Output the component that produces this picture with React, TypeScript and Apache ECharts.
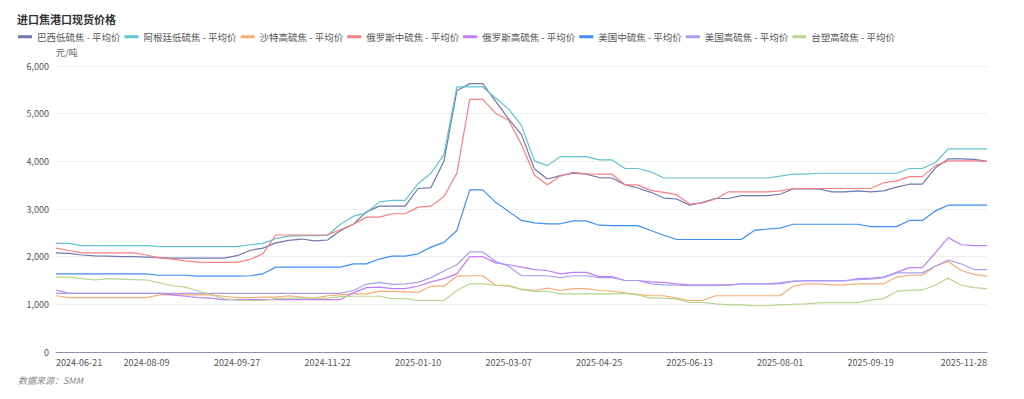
import React, { useEffect, useRef } from "react";
import * as echarts from "echarts";

const dates = [
  "2024-06-21","2024-06-28","2024-07-05","2024-07-12","2024-07-19","2024-07-26","2024-08-02","2024-08-09",
  "2024-08-16","2024-08-23","2024-08-30","2024-09-06","2024-09-13","2024-09-20","2024-09-27",
  "2024-10-11","2024-10-18","2024-10-25","2024-11-01","2024-11-08","2024-11-15","2024-11-22",
  "2024-11-29","2024-12-06","2024-12-13","2024-12-20","2024-12-27","2025-01-03","2025-01-10",
  "2025-01-17","2025-01-24","2025-02-07","2025-02-14","2025-02-21","2025-02-28","2025-03-07",
  "2025-03-14","2025-03-21","2025-03-28","2025-04-04","2025-04-11","2025-04-18","2025-04-25",
  "2025-05-02","2025-05-09","2025-05-16","2025-05-23","2025-05-30","2025-06-06","2025-06-13",
  "2025-06-20","2025-06-27","2025-07-04","2025-07-11","2025-07-18","2025-07-25","2025-08-01",
  "2025-08-08","2025-08-15","2025-08-22","2025-08-29","2025-09-05","2025-09-12","2025-09-19",
  "2025-09-26","2025-10-10","2025-10-17","2025-10-24","2025-10-31","2025-11-07","2025-11-14",
  "2025-11-21","2025-11-28",
];

const brazilLow = [
  2080,2070,2035,2015,2010,2000,2000,1990,1980,1970,
  1970,1970,1970,1970,2020,2130,2180,2290,2340,2370,
  2330,2350,2550,2680,2940,3060,3060,3060,3430,3450,
  4000,5480,5630,5630,5260,4890,4560,3840,3630,3700,
  3750,3730,3660,3650,3510,3440,3350,3230,3210,3080,
  3140,3220,3220,3280,3280,3280,3310,3420,3420,3420,
  3360,3360,3380,3360,3380,3460,3520,3520,3860,4050,
  4050,4040,4000,
];

const argentinaLow = [
  2280,2280,2230,2230,2230,2230,2230,2230,2210,2210,
  2210,2210,2210,2210,2210,2250,2280,2380,2430,2440,
  2440,2450,2680,2850,2920,3150,3180,3180,3530,3750,
  4140,5560,5560,5560,5330,5100,4750,4010,3910,4100,
  4100,4100,4030,4030,3850,3850,3780,3650,3650,3650,
  3650,3650,3650,3650,3650,3650,3690,3730,3730,3750,
  3750,3750,3750,3750,3750,3750,3850,3850,3970,4260,
  4260,4260,4260,
];

const saudiHigh = [
  1180,1140,1140,1140,1140,1140,1140,1140,1200,1200,
  1200,1200,1200,1170,1140,1140,1150,1150,1180,1150,
  1130,1180,1200,1220,1220,1270,1270,1260,1250,1380,
  1380,1590,1600,1600,1400,1380,1320,1290,1340,1290,
  1330,1330,1290,1280,1240,1210,1180,1180,1130,1080,
  1080,1180,1180,1180,1180,1180,1180,1380,1430,1430,
  1410,1410,1430,1430,1430,1570,1610,1610,1800,1900,
  1710,1630,1590,
];

const russiaMid = [
  2180,2130,2080,2080,2080,2080,2080,2035,1975,1950,
  1910,1885,1880,1880,1880,1940,2060,2455,2455,2455,
  2455,2455,2570,2680,2830,2830,2900,2900,3040,3060,
  3260,3750,5300,5300,5010,4860,4350,3710,3510,3690,
  3770,3740,3730,3730,3510,3500,3390,3350,3300,3100,
  3130,3210,3360,3360,3360,3360,3380,3430,3430,3430,
  3430,3430,3430,3430,3550,3590,3680,3680,3910,4010,
  4010,4010,4000,
];

const russiaHigh = [
  1300,1230,1230,1230,1230,1230,1230,1230,1230,1200,
  1170,1140,1130,1095,1100,1100,1100,1100,1100,1100,
  1100,1100,1100,1240,1350,1360,1330,1330,1380,1470,
  1540,1640,2000,2000,1870,1830,1780,1730,1710,1640,
  1670,1670,1580,1580,1500,1500,1470,1460,1430,1410,
  1410,1410,1410,1430,1430,1430,1450,1490,1490,1490,
  1490,1490,1540,1550,1570,1670,1770,1770,2080,2400,
  2250,2230,2230,
];

const usMid = [
  1640,1640,1640,1640,1640,1640,1640,1640,1610,1610,
  1610,1590,1590,1590,1590,1600,1640,1780,1780,1780,
  1780,1780,1780,1850,1850,1950,2010,2010,2060,2200,
  2300,2550,3400,3400,3140,2950,2760,2710,2690,2690,
  2750,2750,2660,2650,2650,2650,2550,2450,2360,2360,
  2360,2360,2360,2360,2550,2580,2600,2680,2680,2680,
  2680,2680,2680,2630,2630,2630,2760,2760,2960,3080,
  3080,3080,3080,
];

const usHigh = [
  1230,1230,1230,1230,1230,1230,1230,1230,1230,1230,
  1230,1230,1230,1230,1230,1230,1230,1230,1230,1230,
  1230,1230,1230,1290,1420,1460,1420,1430,1460,1560,
  1700,1830,2100,2100,1900,1800,1600,1600,1600,1560,
  1600,1600,1560,1560,1500,1500,1430,1410,1400,1390,
  1390,1390,1400,1430,1430,1430,1430,1480,1500,1500,
  1500,1500,1520,1530,1560,1660,1660,1660,1800,1930,
  1850,1730,1730,
];

const taiwanHigh = [
  1570,1570,1540,1510,1540,1530,1520,1510,1450,1390,
  1360,1280,1200,1120,1090,1080,1080,1120,1130,1130,
  1130,1130,1160,1170,1170,1170,1120,1120,1080,1080,
  1080,1290,1430,1430,1400,1400,1310,1270,1270,1220,
  1220,1220,1220,1220,1230,1200,1130,1130,1110,1040,
  1040,1010,990,990,970,970,990,1000,1010,1030,
  1035,1035,1035,1090,1120,1270,1300,1300,1400,1550,
  1400,1350,1330,
];

const seriesNames = [
  "巴西低硫焦 - 平均价",
  "阿根廷低硫焦 - 平均价",
  "沙特高硫焦 - 平均价",
  "俄罗斯中硫焦 - 平均价",
  "俄罗斯高硫焦 - 平均价",
  "美国中硫焦 - 平均价",
  "美国高硫焦 - 平均价",
  "台塑高硫焦 - 平均价",
];
const seriesData = [brazilLow, argentinaLow, saudiHigh, russiaMid, russiaHigh, usMid, usHigh, taiwanHigh];
const colors = ["#6f78ac", "#62c3d3", "#f6ad76", "#fb7f83", "#c07ef7", "#3f8ef7", "#a99ded", "#b8d58f"];

const FONT = '"Noto Sans CJK SC", "Noto Sans", sans-serif';

export default function App() {
  const ref = useRef<HTMLDivElement>(null);
  useEffect(() => {
    document.body.style.margin = "0";
    if (!ref.current) return;
    const chart = echarts.init(ref.current, null, { renderer: "svg" });
    chart.setOption({
      animation: false,
      color: colors,
      textStyle: { fontFamily: FONT },
      title: {
        text: "进口焦港口现货价格",
        left: 17,
        top: 13,
        padding: 0,
        textStyle: { fontSize: 11, fontWeight: "bold", color: "#333", fontFamily: FONT },
      },
      legend: {
        left: 18,
        top: 32,
        padding: 0,
        icon: "rect",
        itemWidth: 14,
        itemHeight: 3,
        itemGap: 4,
        textStyle: { fontSize: 9.5, color: "#555", fontFamily: FONT },
        data: seriesNames,
      },
      grid: { left: 56, right: 37, top: 66, bottom: 47, containLabel: false },
      xAxis: {
        type: "category",
        data: dates,
        boundaryGap: false,
        axisLine: { lineStyle: { color: "#8e92a8" } },
        axisTick: { show: false },
        axisLabel: {
          fontSize: 9,
          color: "#555",
          margin: 6,
          interval: (i: number) => (i % 7 === 0 && i <= 63) || i === dates.length - 1,
          alignMinLabel: "left",
          alignMaxLabel: "right",
        },
      },
      yAxis: {
        type: "value",
        min: 0,
        max: 6000,
        interval: 1000,
        name: "元/吨",
        nameGap: 9,
        nameTextStyle: { fontSize: 9, color: "#666", align: "left", fontFamily: FONT },
        axisLine: { show: false },
        axisTick: { show: false },
        splitLine: { lineStyle: { color: "#eeeeee" } },
        axisLabel: {
          fontSize: 9,
          color: "#555",
          margin: 7,
          formatter: (v: number) => v.toLocaleString("en-US"),
        },
      },
      graphic: [
        {
          type: "text",
          left: 18,
          top: 376,
          style: {
            text: "数据来源：SMM",
            fontSize: 9,
            fontStyle: "italic",
            fill: "#888",
            fontFamily: FONT,
          },
        },
      ],
      series: seriesNames.map((name, k) => ({
        name,
        type: "line",
        data: seriesData[k],
        symbol: "none",
        showSymbol: false,
        lineStyle: { width: 1.2, color: colors[k] },
        itemStyle: { color: colors[k] },
      })),
    });
    return () => chart.dispose();
  }, []);
  return <div ref={ref} style={{ width: 1024, height: 399 }} />;
}
